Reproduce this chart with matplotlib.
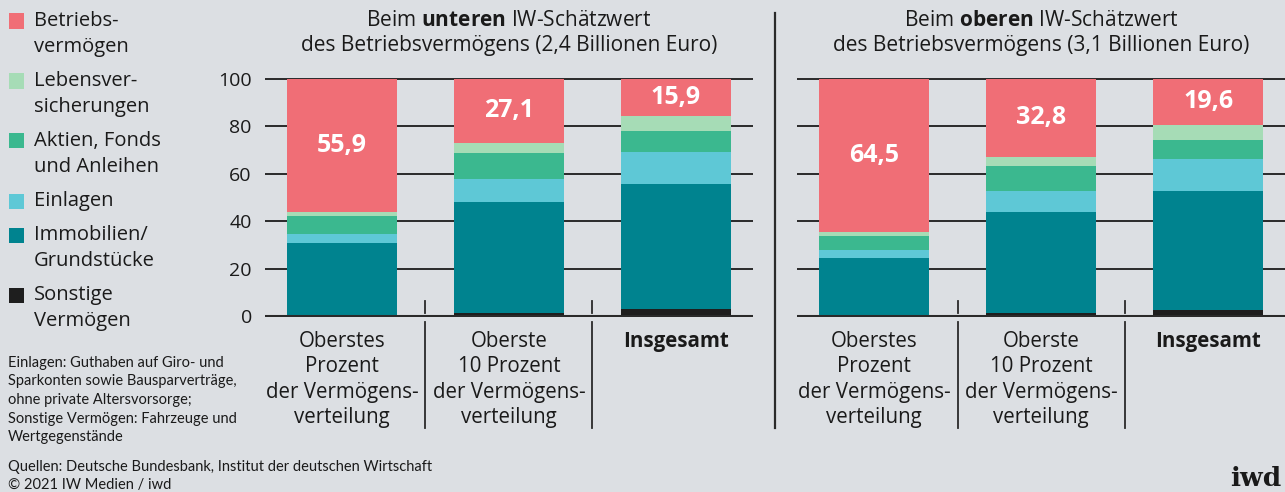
import matplotlib
matplotlib.use("Agg")
import matplotlib.pyplot as plt
from matplotlib import font_manager
from matplotlib.lines import Line2D
from matplotlib.transforms import blended_transform_factory

# --- data (shares in percent, bottom to top) ---
categories = ["Oberstes\nProzent\nder Vermögens-\nverteilung",
              "Oberste\n10 Prozent\nder Vermögens-\nverteilung",
              "Insgesamt"]
series_names = ["Sonstige\nVermögen", "Immobilien/\nGrundstücke", "Einlagen",
                "Aktien, Fonds\nund Anleihen", "Lebensver-\nsicherungen", "Betriebs-\nvermögen"]

unten_sonstige = [0.4, 1.5, 3.1]
unten_immobilien = [30.3, 46.4, 52.4]
unten_einlagen = [3.9, 9.7, 13.6]
unten_aktien = [7.7, 11.1, 8.8]
unten_leben = [1.8, 4.2, 6.2]
unten_betrieb = [55.9, 27.1, 15.9]

oben_sonstige = [0.3, 1.3, 2.5]
oben_immobilien = [24.4, 42.6, 50.2]
oben_einlagen = [3.2, 9.0, 13.3]
oben_aktien = [5.9, 10.3, 8.1]
oben_leben = [1.7, 4.0, 6.3]
oben_betrieb = [64.5, 32.8, 19.6]

yticks = [0, 20, 40, 60, 80, 100]

colors = ["#1e1e1e", "#00838f", "#5ec8d6", "#3bb88f", "#a6dcb6", "#f06e76"]
bg = "#dcdfe3"
ink = "#1a1a1a"
line_col = "#2a2a2a"

names = {f.name for f in font_manager.fontManager.ttflist}
narrow = "Liberation Sans Narrow" if "Liberation Sans Narrow" in names else "Lato"

plt.rcParams["font.family"] = ["Open Sans", "DejaVu Sans"]
plt.rcParams["mathtext.fontset"] = "custom"
plt.rcParams["mathtext.rm"] = "Open Sans"
plt.rcParams["mathtext.bf"] = "Open Sans:bold"

W, H = 1285, 492
fig = plt.figure(figsize=(W / 100, H / 100), dpi=100, facecolor=bg)


def fx(px):
    return px / W


def fy(py):
    return 1 - py / H


def panel(left_px, right_px, stacks, title_bold, title_sub, show_yticks):
    ax = fig.add_axes([fx(left_px), fy(317), fx(right_px - left_px), (317 - 78) / H])
    ax.set_facecolor(bg)
    x = list(range(len(categories)))
    bottom = [0.0] * len(categories)
    for vals, col in zip(stacks, colors):
        ax.bar(x, vals, width=0.662, bottom=bottom, color=col, zorder=2, linewidth=0)
        bottom = [b + v for b, v in zip(bottom, vals)]
    # value labels in the top segment
    top = stacks[-1]
    for i, v in enumerate(top):
        ax.text(i, 100 - v / 2, f"{v:.1f}".replace(".", ","), ha="center", va="center",
                color="white", fontsize=18, fontweight="bold", zorder=4)
    ax.set_xlim(-0.46, 2.46)
    ax.set_ylim(-0.3, 100.3)
    ax.set_yticks(yticks)
    ax.yaxis.grid(True, color=line_col, lw=1.4)
    ax.set_axisbelow(True)
    ax.axhline(0, color=line_col, lw=2.2, zorder=3)
    for s in ax.spines.values():
        s.set_visible(False)
    ax.tick_params(axis="y", length=0, pad=9.5, labelsize=14, labelcolor=ink)
    if not show_yticks:
        ax.set_yticklabels([])
    ax.set_xticks(x)
    ax.set_xticklabels(categories, fontsize=14.8, color=ink, linespacing=1.28)
    ax.get_xticklabels()[-1].set_fontweight("bold")
    ax.tick_params(axis="x", length=0, pad=10)
    # small ticks between bars and separators below axis
    tr = blended_transform_factory(ax.transData, ax.transAxes)
    for xs in (0.5, 1.5):
        ax.plot([xs, xs], [1.5, 6.5], color=line_col, lw=1.3, zorder=3)
        ax.plot([xs, xs], [-0.02, -0.465], color=line_col, lw=1.3, transform=tr, clip_on=False)
    cx = fx((left_px + right_px) / 2)
    fig.text(cx, fy(20), r"Beim $\mathbf{" + title_bold + r"}$ IW-Schätzwert",
             ha="center", va="center", fontsize=15, color=ink)
    fig.text(cx, fy(46), title_sub, ha="center", va="center", fontsize=15, color=ink)
    return ax


panel(265, 752.7,
      [unten_sonstige, unten_immobilien, unten_einlagen, unten_aktien, unten_leben, unten_betrieb],
      "unteren", "des Betriebsvermögens (2,4 Billionen Euro)", True)
panel(797.3, 1285,
      [oben_sonstige, oben_immobilien, oben_einlagen, oben_aktien, oben_leben, oben_betrieb],
      "oberen", "des Betriebsvermögens (3,1 Billionen Euro)", False)

# panel separator
fig.add_artist(Line2D([fx(775), fx(775)], [fy(13), fy(428)], color=line_col, lw=1.6))

# legend, top entry first
y = 21
for name, col in zip(series_names[::-1], colors[::-1]):
    fig.add_artist(plt.Rectangle((fx(8.5), fy(y + 7.5)), fx(15), 15 / H, color=col, lw=0))
    for k, line in enumerate(name.split("\n")):
        fig.text(fx(34), fy(y + 26 * k), line, ha="left", va="center", fontsize=14.5, color=ink)
    y += 26 * (name.count("\n") + 1) + 8

# footnotes
notes = ["Einlagen: Guthaben auf Giro- und", "Sparkonten sowie Bausparverträge,",
         "ohne private Altersvorsorge;", "Sonstige Vermögen: Fahrzeuge und", "Wertgegenstände"]
for i, t in enumerate(notes):
    fig.text(fx(8), fy(363 + i * 18.5), t, ha="left", va="center", fontsize=10.5,
             family=narrow, color=ink)
fig.text(fx(8), fy(467), "Quellen: Deutsche Bundesbank, Institut der deutschen Wirtschaft",
         ha="left", va="center", fontsize=10.5, family=narrow, color=ink)
fig.text(fx(8), fy(485), "© 2021 IW Medien / iwd", ha="left", va="center", fontsize=10.5,
         family=narrow, color=ink)
fig.text(fx(1281), fy(486), "iwd", ha="right", va="baseline", fontsize=19, fontweight="bold",
         family="DejaVu Serif", color=ink)

fig.savefig("out.png", dpi=100, facecolor=bg)
